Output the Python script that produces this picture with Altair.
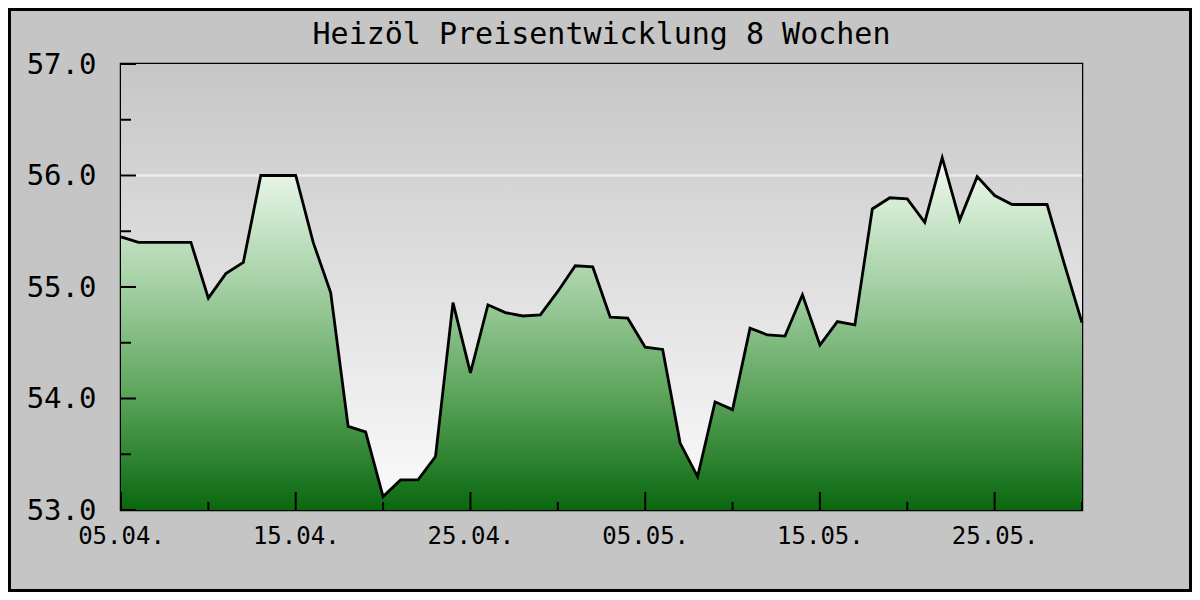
import altair as alt
import pandas as pd

start_date = "2024-04-05"
prices = [
    55.45, 55.40, 55.40, 55.40, 55.40, 54.90, 55.12, 55.22, 56.00, 56.00,
    56.00, 55.40, 54.95, 53.75, 53.70, 53.12, 53.27, 53.27, 53.48, 54.86,
    54.23, 54.84, 54.77, 54.74, 54.75, 54.96, 55.19, 55.18, 54.73, 54.72,
    54.46, 54.44, 53.60, 53.30, 53.97, 53.90, 54.63, 54.57, 54.56, 54.93,
    54.48, 54.69, 54.66, 55.70, 55.80, 55.79, 55.58, 56.16, 55.60, 55.99,
    55.82, 55.74, 55.74, 55.74, 55.20, 54.68,
]
dates = pd.date_range(start_date, periods=len(prices), freq="D").strftime("%Y-%m-%d").tolist()

y_major = [53.0, 54.0, 55.0, 56.0, 57.0]
y_minor = [53.5, 54.5, 55.5, 56.5]
grid_values = [54.0, 56.0]
x_major = ["2024-04-05", "2024-04-15", "2024-04-25", "2024-05-05", "2024-05-15", "2024-05-25"]
x_minor = ["2024-04-10", "2024-04-20", "2024-04-30", "2024-05-10", "2024-05-20", "2024-05-30"]
title_text = "Heizöl Preisentwicklung 8 Wochen"

W, H = 961, 446
PL, PT, PR, PB = 113, 56, 110, 82
FONT = "DejaVu Sans Mono"

df = pd.DataFrame({"date": dates, "price": prices})


def dt(s):
    y, m, d = (int(p) for p in s.split("-"))
    return alt.DateTime(year=y, month=m, date=d, utc=True)


x_scale = alt.Scale(type="utc", domain=[dt("2024-04-05"), dt("2024-05-30")])
y_scale = alt.Scale(domain=[53, 57], nice=False, zero=False)

one = alt.Data(values=[{"a": 1}])

bg = alt.Chart(one).mark_rect(
    fill=alt.Gradient(
        gradient="linear",
        stops=[alt.GradientStop(offset=0, color="#c6c6c6"),
               alt.GradientStop(offset=1, color="#fbfbfb")],
        x1=0, x2=0, y1=0, y2=1,
    )
).encode(x=alt.value(0), x2=alt.value(W), y=alt.value(0), y2=alt.value(H))

grid = alt.Chart(pd.DataFrame({"v": grid_values})).mark_rule(
    color="#ececec", strokeWidth=2.5
).encode(y=alt.Y("v:Q", scale=y_scale, title=None), x=alt.value(0), x2=alt.value(W))

area = alt.Chart(df).mark_area(
    fill=alt.Gradient(
        gradient="linear",
        stops=[alt.GradientStop(offset=0, color="#f4faf4"),
               alt.GradientStop(offset=0.1, color="#dcefdc"),
               alt.GradientStop(offset=0.4, color="#9ccb9c"),
               alt.GradientStop(offset=0.7, color="#55a055"),
               alt.GradientStop(offset=1, color="#0a680f")],
        x1=0, x2=0, y1=0, y2=1,
    ),
    opacity=1,
    fillOpacity=1,
    line={"color": "black", "strokeWidth": 2.8},
    interpolate="linear",
).encode(
    x=alt.X(
        "date:T", scale=x_scale, title=None,
        axis=alt.Axis(
            values=[dt(s) for s in x_major], format="%d.%m.", labelFont=FONT,
            labelFontSize=24, labelColor="black", ticks=False, domain=False,
            grid=False, labelPadding=14, labelFlush=False, labelOverlap=False,
        ),
    ),
    y=alt.Y(
        "price:Q", scale=y_scale, title=None,
        axis=alt.Axis(
            values=y_major, format=".1f", labelFont=FONT, labelFontSize=29,
            labelColor="black", ticks=False, domain=False, grid=False,
            labelPadding=25, labelFlush=False, labelOverlap=False,
        ),
    ),
    y2=alt.datum(53),
)

y_tick_major = alt.Chart(pd.DataFrame({"v": y_major})).mark_rule(
    color="black", strokeWidth=2
).encode(y=alt.Y("v:Q", scale=y_scale, title=None), x=alt.value(0), x2=alt.value(15))

y_tick_minor = alt.Chart(pd.DataFrame({"v": y_minor})).mark_rule(
    color="black", strokeWidth=2
).encode(y=alt.Y("v:Q", scale=y_scale, title=None), x=alt.value(0), x2=alt.value(10))

x_tick_major = alt.Chart(pd.DataFrame({"d": x_major})).mark_rule(
    color="black", strokeWidth=2
).encode(x=alt.X("d:T", scale=x_scale, title=None), y=alt.value(H), y2=alt.value(H - 18))

x_tick_minor = alt.Chart(pd.DataFrame({"d": x_minor})).mark_rule(
    color="black", strokeWidth=2
).encode(x=alt.X("d:T", scale=x_scale, title=None), y=alt.value(H), y2=alt.value(H - 8))

border = alt.Chart(one).mark_rect(
    fill="transparent", stroke="black", strokeWidth=3
).encode(
    x=alt.value(-PL + 1.5), x2=alt.value(W + PR - 1.5),
    y=alt.value(-PT + 1.5), y2=alt.value(H + PB - 1.5),
)

chart = alt.layer(
    bg, grid, area, y_tick_major, y_tick_minor, x_tick_major, x_tick_minor, border
).properties(
    width=W,
    height=H,
    padding={"left": PL, "top": PT, "right": PR, "bottom": PB},
    autosize=alt.AutoSizeParams(type="none"),
    title=alt.TitleParams(
        title_text, font=FONT, fontSize=30, fontWeight="normal", color="black",
        anchor="middle", offset=-42, frame="group",
    ),
).configure(
    background="#c5c5c5",
).configure_view(
    stroke="black", strokeWidth=2.5,
)

chart.save("out.html", embed_options={"renderer": "svg", "actions": False})
